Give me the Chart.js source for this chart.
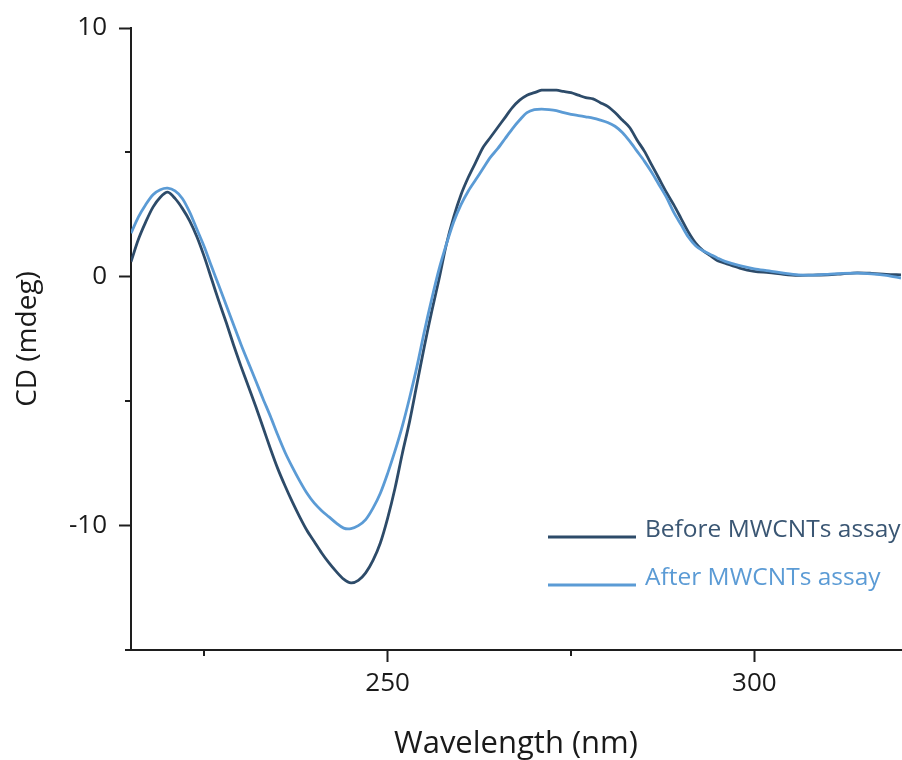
<!DOCTYPE html>
<html>
<head>
<meta charset="utf-8">
<script src="https://cdn.jsdelivr.net/npm/chart.js@4/dist/chart.umd.min.js"></script>
<style>
  html, body { margin: 0; padding: 0; background: #ffffff; }
  #wrap { width: 902px; height: 760px; position: relative; }
</style>
</head>
<body>
<div id="wrap"><canvas id="c" width="902" height="760"></canvas></div>
<script>
const wavelengths = [
  215,216,217,218,219,220,221,222,223,224,225,226,227,228,229,230,231,232,233,234,
  235,236,237,238,239,240,241,242,243,244,245,246,247,248,249,250,251,252,253,254,
  255,256,257,258,259,260,261,262,263,264,265,266,267,268,269,270,271,272,273,274,
  275,276,277,278,279,280,281,282,283,284,285,286,287,288,289,290,291,292,293,294,
  295,296,298,300,302,304,306,308,310,312,314,316,318,320
];
const beforeCD = [
  0.6,1.5,2.2,2.8,3.2,3.4,3.15,2.75,2.25,1.6,0.8,-0.1,-1.0,-1.85,-2.75,-3.6,-4.4,-5.2,-6.05,-6.9,
  -7.7,-8.4,-9.05,-9.65,-10.2,-10.65,-11.1,-11.5,-11.85,-12.15,-12.3,-12.2,-11.9,-11.4,-10.7,-9.7,-8.5,-7.1,-5.8,-4.3,
  -2.8,-1.4,-0.1,1.3,2.4,3.3,4.0,4.6,5.2,5.6,6.0,6.4,6.8,7.1,7.3,7.4,7.5,7.5,7.5,7.45,
  7.4,7.3,7.2,7.15,7.0,6.85,6.6,6.3,6.0,5.5,5.05,4.5,3.95,3.4,2.9,2.35,1.8,1.35,1.05,0.85,
  0.65,0.55,0.35,0.22,0.17,0.1,0.06,0.07,0.08,0.12,0.16,0.14,0.1,0.08
];
const afterCD = [
  1.75,2.4,2.9,3.3,3.5,3.56,3.45,3.15,2.6,1.9,1.2,0.4,-0.37,-1.15,-1.94,-2.72,-3.45,-4.17,-4.9,-5.6,
  -6.35,-7.05,-7.65,-8.2,-8.7,-9.1,-9.4,-9.65,-9.9,-10.1,-10.12,-10.0,-9.76,-9.3,-8.7,-7.9,-7.0,-6.0,-4.85,-3.6,
  -2.2,-0.9,0.3,1.3,2.2,2.9,3.45,3.9,4.35,4.8,5.15,5.55,5.95,6.3,6.6,6.72,6.74,6.72,6.68,6.6,
  6.53,6.48,6.43,6.38,6.3,6.2,6.05,5.8,5.45,5.05,4.65,4.2,3.7,3.2,2.6,2.1,1.6,1.25,1.05,0.9,
  0.75,0.62,0.45,0.32,0.24,0.15,0.08,0.07,0.1,0.14,0.15,0.12,0.06,-0.05
];
const seriesLabels = ['Before MWCNTs assay', 'After MWCNTs assay'];
const xMajorTicks = [250, 300];
const xMinorTicks = [225, 275];
const yMajorTicks = [-10, 0, 10];
const yMinorTicks = [-15, -5, 5];
const xTitle = 'Wavelength (nm)';
const yTitle = 'CD (mdeg)';

const AXIS = '#1e1e1e';
const DARK = '#2d4b69';
const LIGHT = '#5b9bd5';
const FONT = "'Open Sans', 'Noto Sans', sans-serif";

const toPts = (ys) => wavelengths.map((x, i) => ({ x: x, y: ys[i] }));

const minorTickPlugin = {
  id: 'minorTicks',
  afterDraw(chart) {
    const ctx = chart.ctx;
    const xs = chart.scales.x, ys = chart.scales.y;
    ctx.save();
    ctx.strokeStyle = AXIS;
    ctx.lineWidth = 2;
    ctx.beginPath();
    xMinorTicks.forEach(v => {
      const px = Math.round(xs.getPixelForValue(v));
      ctx.moveTo(px, xs.top);
      ctx.lineTo(px, xs.top + 6);
    });
    yMinorTicks.forEach(v => {
      const py = Math.round(ys.getPixelForValue(v));
      ctx.moveTo(ys.right, py);
      ctx.lineTo(ys.right - 6, py);
    });
    ctx.stroke();
    ctx.restore();
  }
};

const legendPlugin = {
  id: 'customLegend',
  afterDraw(chart) {
    const ctx = chart.ctx;
    const x0 = 548, x1 = 636, tx = 645;
    const rows = [537, 585];
    ctx.save();
    ctx.font = "24.5px " + FONT;
    ctx.textBaseline = 'alphabetic';
    chart.data.datasets.forEach((ds, i) => {
      const y = rows[i];
      ctx.strokeStyle = ds.borderColor;
      ctx.lineWidth = 3;
      ctx.beginPath();
      ctx.moveTo(x0, y);
      ctx.lineTo(x1, y);
      ctx.stroke();
      ctx.fillStyle = ds.legendTextColor;
      ctx.fillText(ds.label, tx, y);
    });
    ctx.restore();
  }
};

new Chart(document.getElementById('c'), {
  type: 'line',
  data: {
    datasets: [
      {
        label: seriesLabels[0],
        data: toPts(beforeCD),
        borderColor: DARK,
        legendTextColor: '#3a5673',
        borderWidth: 2.8,
        pointRadius: 0,
        tension: 0.3,
        fill: false,
        order: 1
      },
      {
        label: seriesLabels[1],
        data: toPts(afterCD),
        borderColor: LIGHT,
        legendTextColor: LIGHT,
        borderWidth: 2.8,
        pointRadius: 0,
        tension: 0.3,
        fill: false,
        order: 0
      }
    ]
  },
  options: {
    responsive: false,
    animation: false,
    layout: { padding: { top: 28, right: 1, bottom: 0, left: 0 } },
    plugins: { legend: { display: false }, tooltip: { enabled: false } },
    scales: {
      x: {
        type: 'linear',
        min: 215,
        max: 320,
        afterBuildTicks(scale) { scale.ticks = xMajorTicks.map(v => ({ value: v })); },
        afterFit(scale) { scale.height = 110; },
        grid: { display: true, drawOnChartArea: false, drawTicks: true, tickLength: 12, tickWidth: 2, tickColor: AXIS },
        border: { display: true, color: AXIS, width: 2 },
        ticks: { color: '#1a1a1a', font: { family: FONT, size: 26 }, padding: 6, maxRotation: 0, autoSkip: false },
        title: { display: true, text: xTitle, color: '#1a1a1a', font: { family: FONT, size: 31 }, padding: { top: 0, bottom: -3 } }
      },
      y: {
        type: 'linear',
        min: -15,
        max: 10,
        afterBuildTicks(scale) { scale.ticks = yMajorTicks.map(v => ({ value: v })); },
        afterFit(scale) { scale.width = 131; },
        grid: { display: true, drawOnChartArea: false, drawTicks: true, tickLength: 12, tickWidth: 2, tickColor: AXIS },
        border: { display: true, color: AXIS, width: 2 },
        ticks: { color: '#1a1a1a', font: { family: FONT, size: 26 }, padding: 12, autoSkip: false },
        title: { display: true, text: yTitle, color: '#1a1a1a', font: { family: FONT, size: 28 }, padding: { top: 11, bottom: 0 } }
      }
    }
  },
  plugins: [minorTickPlugin, legendPlugin]
});
</script>
</body>
</html>
